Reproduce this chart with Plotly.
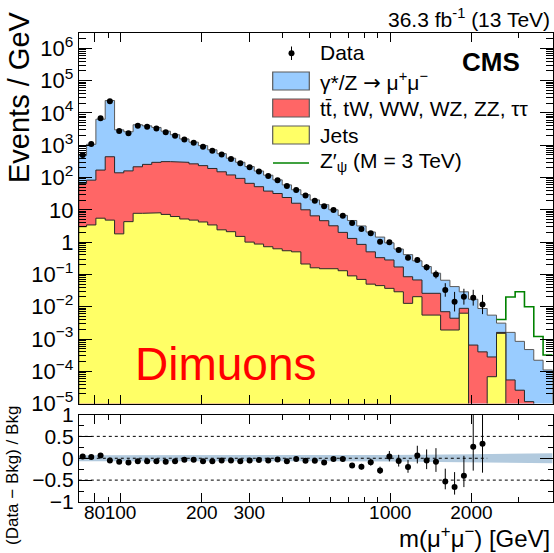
import math
import plotly.graph_objects as go

# ---------------- data ----------------
edges = [70.0, 74.8, 81.0, 87.7, 95.0, 102.8, 111.3, 120.6, 130.5, 141.3, 153.0,
         165.7, 179.4, 194.3, 210.4, 227.8, 246.7, 267.1, 289.2, 313.2, 339.1,
         367.2, 397.6, 430.5, 466.2, 504.8, 546.6, 591.8, 640.9, 693.9, 751.4,
         813.6, 881.0, 953.9, 1032.9, 1118.4, 1211.0, 1311.3, 1419.9, 1537.4, 1664.7,
         1802.5, 1951.7, 2113.3, 2288.3, 2477.8, 2683.0, 2905.1, 3145.6, 3406.1, 3688.1,
         4000.0]

data = [500, 1100, 6800, 23000, 2750, 2350, 4000, 3700, 3300, 2500,
        1960, 1510, 1200, 900, 670, 520, 375, 275, 207, 153,
        112, 82, 55, 41, 27.5, 19, 13, 9.8, 6.6, 3.9,
        2.55, 1.87, 1.03, 0.99, 0.57, 0.33, 0.28, 0.166, 0.10, 0.033,
        0.0143, 0.0204, 0.019, 0.0117]

ratio = [0.04, 0.03, 0.065, -0.05, -0.08, -0.10, -0.07, -0.07, -0.07, -0.08,
         -0.07, -0.035, -0.035, -0.07, -0.07, -0.05, -0.05, -0.07, -0.05, -0.04,
         -0.05, -0.03, -0.07, -0.02, -0.06, -0.06, -0.10, -0.02, -0.02, -0.165,
         -0.195, -0.09, -0.28, 0.04, -0.065, -0.20, 0.065, -0.05, -0.08, -0.53,
         -0.66, -0.40, 0.26, 0.33]

dy = [416, 985, 6215, 23770, 2849, 2451, 4086, 3723, 3253, 2407,
      1798, 1270, 979, 735, 530, 397, 275, 202, 152, 107,
      80, 52.5, 35, 25.8, 19.3, 13.7, 9.8, 6.8, 4.73, 3.37,
      2.32, 1.55, 1.10, 0.67, 0.44, 0.325, 0.196, 0.149, 0.083, 0.059,
      0.0376, 0.020, 0.0164, 0.0084, 0.0052, 0.0015, 0.00155, 0.00082, 0.00046, 0.00022,
      0.00011]

other = [62, 79.6, 164.5, 435, 138, 156, 207, 247, 287, 303,
         304, 290, 260, 229, 187, 148, 118, 92.5, 65, 51.1,
         37.3, 31.4, 23.5, 15.5, 9.8, 6.34, 4.45, 3.05, 1.87, 1.21,
         0.78, 0.45, 0.285, 0.243, 0.141, 0.072, 0.047, 0.0205, 0.0205, 0.0051,
         0.0025, 0.0026, 0.00065, 0.0004, 0.00021, 0.0001, 0.000054, 0.000026, 0.0000115, 0,
         0]

jets = [3.0, 3.4, 5.5, 4.8, 1.8, 4.3, 7.8, 7.8, 8.1, 7.2,
        6.2, 5.2, 4.8, 4.2, 3.4, 2.4, 2.1, 1.5, 1.0, 0.87,
        0.72, 0.62, 0.54, 0.50, 0.21, 0.16, 0.15, 0.15, 0.13, 0.09,
        0.07, 0.05, 0.045, 0.037, 0.029, 0.0127, 0.0204, 0.0055, 0.0055, 0.0019,
        0.0019, 0.0063, 0, 0, 0.000068, 0.0015, 0, 0, 0, 0,
        0]

zprime_first_bin = 45
zprime = [0.0040, 0.020, 0.029, 0.010, 0.0012, 0.00032]

band_x = [70, 150, 300, 600, 1000, 2000, 3000, 4000]
band_hw = [0.07, 0.07, 0.07, 0.07, 0.075, 0.09, 0.105, 0.115]

x_major = [80, 100, 200, 300, 1000, 2000]
x_major_text = ["80", "100", "200", "300", "1000", "2000"]
x_minor = [70, 90, 400, 500, 600, 700, 800, 900, 3000, 4000]

# ---------------- helpers ----------------
W, H = 554, 553
FONT = "Liberation Sans"
FLOOR = 1e-8


def px(x):
    return x / W


def py(y):
    return 1 - y / H


def step_poly(vals):
    xs = [edges[0]]
    ys = [FLOOR]
    for i, v in enumerate(vals):
        v = v if v > 0 else FLOOR
        xs += [edges[i], edges[i + 1]]
        ys += [v, v]
    xs.append(edges[len(vals)])
    ys.append(FLOOR)
    return xs, ys


nb = len(dy)
top_jets = [jets[i] for i in range(nb)]
top_other = [jets[i] + other[i] for i in range(nb)]
top_all = [jets[i] + other[i] + dy[i] for i in range(nb)]

centers = [math.sqrt(edges[i] * edges[i + 1]) for i in range(len(data))]
widths = [edges[i + 1] - edges[i] for i in range(len(data))]
err_up, err_dn, r_up, r_dn = [], [], [], []
for d, w, r in zip(data, widths, ratio):
    n = d * w
    up = (0.5 + math.sqrt(n + 0.25)) / w
    dn = (-0.5 + math.sqrt(n + 0.25)) / w
    err_up.append(up)
    err_dn.append(dn)
    r_up.append(up / d * (1 + r))
    r_dn.append(dn / d * (1 + r))

fig = go.Figure()

BLUE = "rgb(153,204,255)"
RED = "rgb(255,102,102)"
YELLOW = "rgb(255,255,102)"
GREEN = "rgb(0,130,0)"

for vals, col, lc in [(top_all, BLUE, "rgb(90,90,90)"),
                      (top_other, RED, "rgb(40,40,40)"),
                      (top_jets, YELLOW, "rgb(40,40,40)")]:
    xs, ys = step_poly(vals)
    fig.add_trace(go.Scatter(x=xs, y=ys, mode="lines", fill="toself", fillcolor=col,
                             line=dict(color=lc, width=1), xaxis="x", yaxis="y",
                             hoverinfo="skip", showlegend=False))

# Z' signal line
zx, zy = [], []
for j, v in enumerate(zprime):
    b = zprime_first_bin + j
    zx += [edges[b], edges[b + 1]]
    zy += [v, v]
fig.add_trace(go.Scatter(x=zx, y=zy, mode="lines", line=dict(color=GREEN, width=1.6),
                         xaxis="x", yaxis="y", hoverinfo="skip", showlegend=False))

# data points
fig.add_trace(go.Scatter(x=centers, y=data, mode="markers",
                         marker=dict(color="black", size=6),
                         error_y=dict(type="data", symmetric=False, array=err_up,
                                      arrayminus=err_dn, color="black", thickness=1, width=0),
                         xaxis="x", yaxis="y", hoverinfo="skip", showlegend=False))

# ratio band
bx = band_x + band_x[::-1]
by = [h for h in band_hw] + [-h for h in band_hw[::-1]]
fig.add_trace(go.Scatter(x=bx, y=by, mode="lines", fill="toself",
                         fillcolor="rgb(178,202,222)", line=dict(width=0),
                         xaxis="x2", yaxis="y2", hoverinfo="skip", showlegend=False))
for lvl, xr_ in [(0.5, [edges[0], edges[-1]]), (-0.5, [edges[0], edges[-1]]),
                 (0.0, [edges[0], edges[len(data)]])]:
    fig.add_trace(go.Scatter(x=xr_, y=[lvl, lvl], mode="lines",
                             line=dict(color="black", width=1, dash="dot"),
                             xaxis="x2", yaxis="y2", hoverinfo="skip", showlegend=False))
fig.add_trace(go.Scatter(x=centers, y=ratio, mode="markers",
                         marker=dict(color="black", size=6),
                         error_y=dict(type="data", symmetric=False, array=r_up,
                                      arrayminus=r_dn, color="black", thickness=1, width=0),
                         xaxis="x2", yaxis="y2", hoverinfo="skip", showlegend=False))

# ---------------- axes ----------------
xdom = [78.8 / W, 552.6 / W]
xr = [math.log10(edges[0]), math.log10(edges[-1])]
dec = list(range(-5, 7))
y_major = [10.0 ** k for k in dec]
y_text = []
for k in dec:
    if k == 0:
        y_text.append("1")
    elif k == 1:
        y_text.append("10")
    else:
        y_text.append("10<sup>%s</sup>" % (str(k).replace("-", "\u2212")))
y_minor = [m * 10.0 ** k for k in range(-5, 7) for m in range(2, 10)]

common = dict(showline=True, linecolor="black", linewidth=1, mirror="allticks",
              ticks="inside", showgrid=False, zeroline=False, tickcolor="black",
              automargin=False, tickangle=0)

fig.update_layout(
    template="none",
    width=W, height=H, margin=dict(l=0, r=0, t=0, b=0, pad=0), autosize=False,
    paper_bgcolor="white", plot_bgcolor="white",
    font=dict(family=FONT, color="black"),
    xaxis=dict(domain=xdom, anchor="y", type="log", range=xr, tickmode="array",
               tickvals=x_major, ticklen=9, showticklabels=False,
               minor=dict(ticks="inside", ticklen=5, tickmode="array", tickvals=x_minor,
                          showgrid=False, tickcolor="black"), **common),
    yaxis=dict(domain=[py(403.6), py(33.3)], anchor="x", type="log",
               range=[-5, 6.465], tickmode="array", tickvals=y_major, ticktext=y_text,
               ticklen=13, tickfont=dict(size=22),
               minor=dict(ticks="inside", ticklen=7, tickmode="array", tickvals=y_minor,
                          showgrid=False, tickcolor="black"), **common),
    xaxis2=dict(domain=xdom, anchor="y2", type="log", range=xr, tickmode="array",
                tickvals=x_major, ticktext=x_major_text, ticklen=9,
                tickfont=dict(size=19), ticklabelstandoff=-7,
                minor=dict(ticks="inside", ticklen=5, tickmode="array", tickvals=x_minor,
                           showgrid=False, tickcolor="black"), **common),
    yaxis2=dict(domain=[py(502), py(414.5)], anchor="x2", range=[-1, 1],
                tickmode="array", tickvals=[-1, -0.5, 0, 0.5, 1],
                ticktext=["\u22121", "\u22120.5", "0", "0.5", "1"], ticklen=13,
                tickfont=dict(size=21),
                minor=dict(ticks="inside", ticklen=5, tickmode="array",
                           tickvals=[-0.75, -0.25, 0.25, 0.75], showgrid=False,
                           tickcolor="black"), **common),
)

ann = []
ann.append(dict(text="36.3 fb<sup>-1</sup> (13 TeV)", x=px(552), y=py(18), xanchor="right",
                yanchor="middle", font=dict(size=21)))
ann.append(dict(text="<b>CMS</b>", x=px(491), y=py(62), xanchor="center", yanchor="middle",
                font=dict(size=26)))
ann.append(dict(text="Dimuons", x=px(226), y=py(364), xanchor="center", yanchor="middle",
                font=dict(size=46, color="red")))
ann.append(dict(text="Events / GeV", x=px(19), y=py(97), xanchor="center", yanchor="middle",
                textangle=-90, font=dict(size=29)))
ann.append(dict(text="(Data \u2212 Bkg) / Bkg", x=px(12), y=py(476), xanchor="center",
                yanchor="middle", textangle=-90, font=dict(size=17)))
ann.append(dict(text="m(\u03bc<sup>+</sup>\u03bc<sup>\u2212</sup>) [GeV]", x=px(552), y=py(537),
                xanchor="right", yanchor="middle", font=dict(size=24)))

leg_text = ["Data",
            "\u03b3*/Z <span style=\"font-family:DejaVu Sans\">\u2192</span> \u03bc<sup>+</sup>\u03bc<sup>\u2212</sup>",
            "tt\u0304, tW, WW, WZ, ZZ, \u03c4\u03c4", "Jets",
            "Z\u2032<sub>\u03c8</sub> (M = 3 TeV)"]
leg_y = [53, 81, 108, 135, 162]
for t, yy in zip(leg_text, leg_y):
    ann.append(dict(text=t, x=px(318), y=py(yy), xanchor="left", yanchor="middle",
                    font=dict(size=21)))
for a in ann:
    a.update(xref="paper", yref="paper", showarrow=False)
fig.update_layout(annotations=ann)

shapes = []
for yy, col in [(81, BLUE), (108, RED), (135, YELLOW)]:
    shapes.append(dict(type="rect", xref="paper", yref="paper", x0=px(272.7), x1=px(309.3),
                       y0=py(yy + 9), y1=py(yy - 9), fillcolor=col,
                       line=dict(color="rgb(90,90,90)", width=1.2)))
shapes.append(dict(type="line", xref="paper", yref="paper", x0=px(273), x1=px(309),
                   y0=py(163), y1=py(163), line=dict(color=GREEN, width=1.6)))
shapes.append(dict(type="line", xref="paper", yref="paper", x0=px(291.5), x1=px(291.5),
                   y0=py(60), y1=py(46.5), line=dict(color="black", width=1)))
shapes.append(dict(type="circle", xref="paper", yref="paper", x0=px(288.5), x1=px(294.5),
                   y0=py(56.3), y1=py(50.3), fillcolor="black", line=dict(color="black", width=0)))
fig.update_layout(shapes=shapes)

fig.write_html("out.html", config={"displayModeBar": False})
